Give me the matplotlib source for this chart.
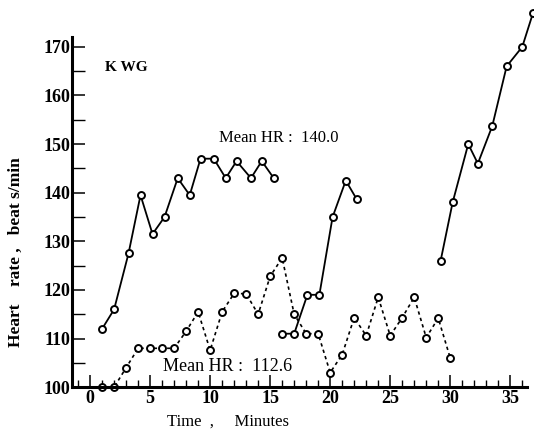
import matplotlib.pyplot as plt
from matplotlib.ticker import MultipleLocator

# heart rate during work bouts (solid) and the dotted trace
bout1_t = [1, 2, 3.2, 4.2, 5.2, 6.2, 7.3, 8.3, 9.2, 10.3, 11.3, 12.2, 13.4, 14.3, 15.3]
bout1_hr = [112, 116, 127.5, 139.5, 131.5, 135, 143, 139.5, 147, 147, 143, 146.5, 143, 146.5, 143]

bout2_t = [16, 17, 18.1, 19.1, 20.2, 21.3, 22.2]
bout2_hr = [111, 111, 119, 119, 135, 142.5, 138.7]

bout3_t = [29.2, 30.2, 31.5, 32.3, 33.5, 34.7, 36.0, 36.9]
bout3_hr = [126, 138, 150, 146, 153.7, 166, 170, 177]

rest_t = list(range(1, 31))
rest_hr = [100, 100, 104, 108, 108, 108, 108, 111.5, 115.5, 107.6,
           115.5, 119.3, 119.2, 115, 122.8, 126.6, 115, 111, 111, 103,
           106.7, 114.3, 110.6, 118.5, 110.6, 114.3, 118.5, 110.2, 114.2, 106]

plt.rcParams['font.family'] = ['Liberation Serif', 'DejaVu Serif']

fig = plt.figure(figsize=(5.34, 4.37), dpi=100)
ax = fig.add_axes([0.135, 0.114, 0.852, 0.801])

mk = dict(marker='o', markersize=5, markerfacecolor='white',
          markeredgecolor='black', markeredgewidth=1.4, clip_on=False)

ax.plot(rest_t, rest_hr, color='black', linewidth=1.2, linestyle=(0, (2, 2)), **mk)
ax.plot(bout1_t, bout1_hr, color='black', linewidth=1.3, **mk)
ax.plot(bout2_t, bout2_hr, color='black', linewidth=1.3, **mk)
ax.plot(bout3_t, bout3_hr, color='black', linewidth=1.3, **mk)

ax.set_xlim(-1.5, 36.4)
ax.set_ylim(100, 172)

for side in ['top', 'right']:
    ax.spines[side].set_visible(False)
for side in ['left', 'bottom']:
    ax.spines[side].set_linewidth(2.2)

ax.xaxis.set_major_locator(MultipleLocator(5))
ax.xaxis.set_minor_locator(MultipleLocator(1))
ax.yaxis.set_major_locator(MultipleLocator(10))
ax.yaxis.set_minor_locator(MultipleLocator(5))
ax.tick_params(axis='x', which='major', direction='in', length=9, width=1.1, labelsize=13, pad=2)
ax.tick_params(axis='x', which='minor', direction='in', length=5, width=1.0)
ax.tick_params(axis='y', which='major', direction='in', length=9, width=1.1, labelsize=13, pad=1)
ax.tick_params(axis='y', which='minor', direction='in', length=9, width=1.0)
for lab in ax.get_xticklabels() + ax.get_yticklabels():
    lab.set_fontweight('bold')

ax.set_xlabel('Time  ,     Minutes', fontsize=12)
ax.set_ylabel('Heart    rate ,   beat s/min', fontsize=12.5, fontweight='bold')
ax.xaxis.set_label_coords(0.343, -0.077)
ax.yaxis.set_label_coords(-0.105, 0.385)

ax.text(1.2, 165.8, 'K WG', fontsize=11, fontweight='bold', va='center')
ax.text(10.7, 151.3, 'Mean HR :  140.0', fontsize=12, va='center')
ax.text(6.1, 104.2, 'Mean HR :  112.6', fontsize=13, va='center')

plt.savefig('out.png', dpi=100)
